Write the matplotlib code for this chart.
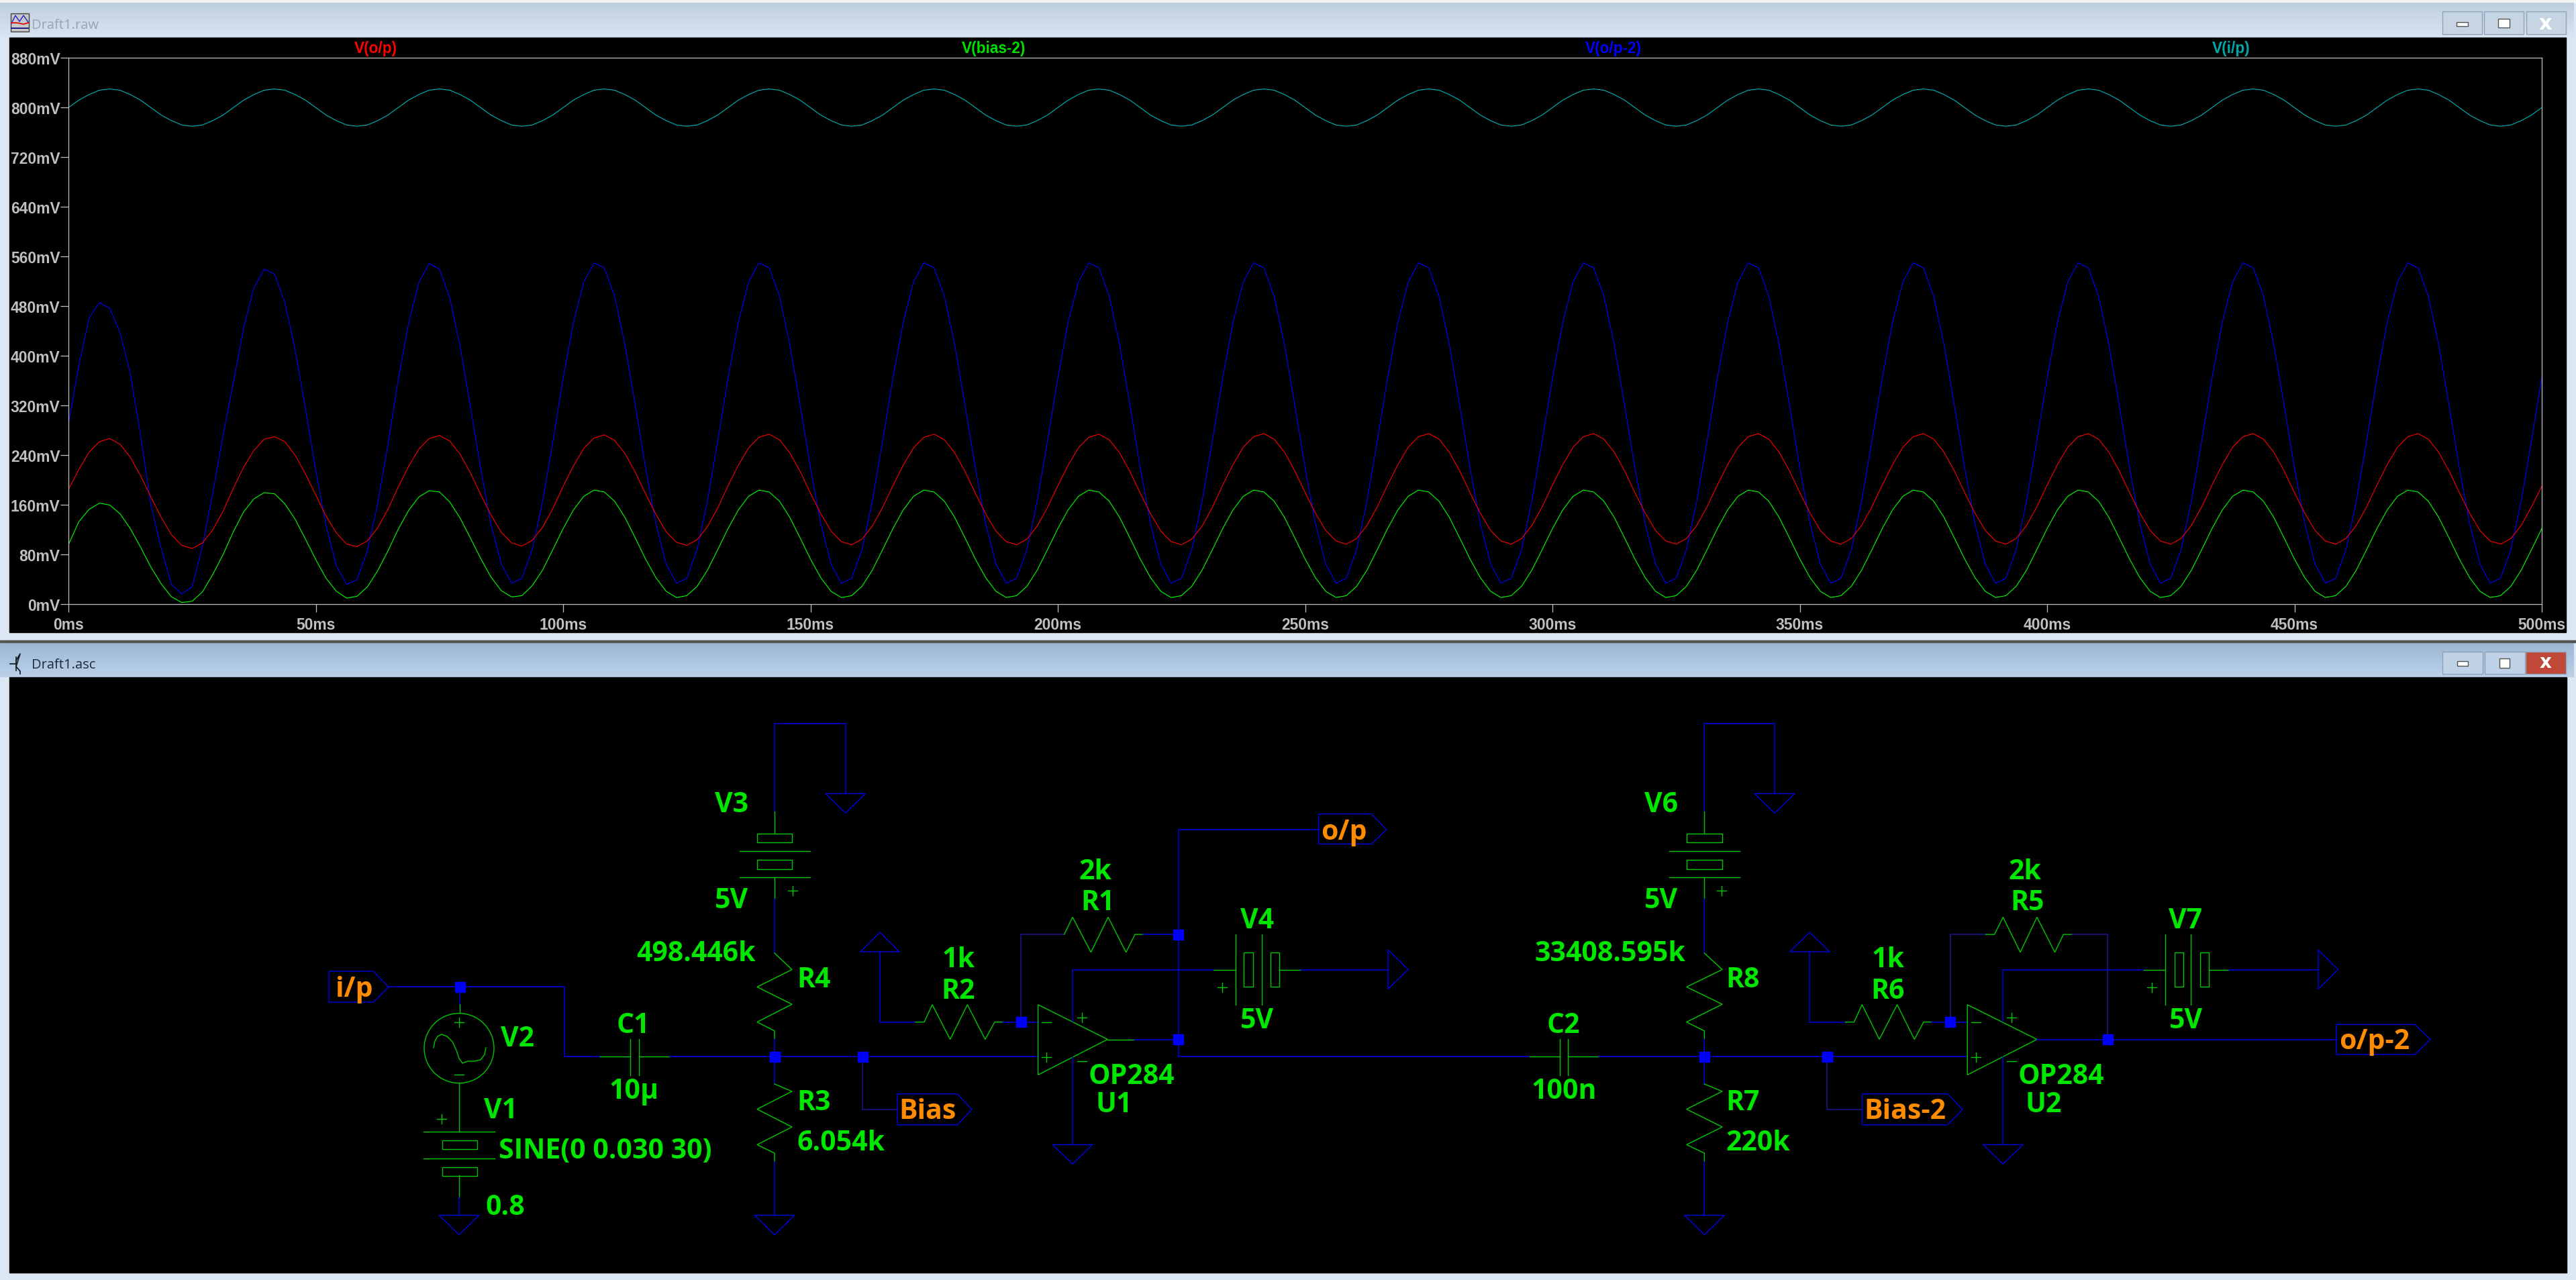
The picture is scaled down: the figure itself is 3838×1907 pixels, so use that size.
import numpy as np
from matplotlib import pyplot as plt
from matplotlib.patches import Rectangle, Polygon, Circle

# tick labels and series names
time_ticks = [0, 50, 100, 150, 200, 250, 300, 350, 400, 450, 500]
time_labels = ["0ms", "50ms", "100ms", "150ms", "200ms", "250ms", "300ms", "350ms", "400ms", "450ms", "500ms"]
volt_ticks = [0, 80, 160, 240, 320, 400, 480, 560, 640, 720, 800, 880]
volt_labels = ["0mV", "80mV", "160mV", "240mV", "320mV", "400mV", "480mV", "560mV", "640mV", "720mV", "800mV", "880mV"]

# 16 readings per 33.3 ms cycle, one row per cycle, values in mV
v_ip = [
    800, 812, 821, 828, 830, 828, 821, 812, 800, 788, 779, 772, 770, 772, 779, 788,
    800, 812, 821, 828, 830, 828, 821, 812, 800, 788, 779, 772, 770, 772, 779, 788,
    800, 812, 821, 828, 830, 828, 821, 812, 800, 788, 779, 772, 770, 772, 779, 788,
    800, 812, 821, 828, 830, 828, 821, 812, 800, 788, 779, 772, 770, 772, 779, 788,
    800, 812, 821, 828, 830, 828, 821, 812, 800, 788, 779, 772, 770, 772, 779, 788,
    800, 812, 821, 828, 830, 828, 821, 812, 800, 788, 779, 772, 770, 772, 779, 788,
    800, 812, 821, 828, 830, 828, 821, 812, 800, 788, 779, 772, 770, 772, 779, 788,
    800, 812, 821, 828, 830, 828, 821, 812, 800, 788, 779, 772, 770, 772, 779, 788,
    800, 812, 821, 828, 830, 828, 821, 812, 800, 788, 779, 772, 770, 772, 779, 788,
    800, 812, 821, 828, 830, 828, 821, 812, 800, 788, 779, 772, 770, 772, 779, 788,
    800, 812, 821, 828, 830, 828, 821, 812, 800, 788, 779, 772, 770, 772, 779, 788,
    800, 812, 821, 828, 830, 828, 821, 812, 800, 788, 779, 772, 770, 772, 779, 788,
    800, 812, 821, 828, 830, 828, 821, 812, 800, 788, 779, 772, 770, 772, 779, 788,
    800, 812, 821, 828, 830, 828, 821, 812, 800, 788, 779, 772, 770, 772, 779, 788,
    800, 812, 821, 828, 830, 828, 821, 812, 800, 788, 779, 772, 770, 772, 779, 788,
    800,
]
v_op2 = [
    291, 384, 461, 486, 477, 438, 372, 272, 160, 90, 32, 17, 28, 94, 179, 272,
    357, 445, 510, 540, 532, 486, 410, 315, 215, 127, 62, 32, 40, 86, 162, 257,
    362, 452, 518, 549, 540, 494, 416, 319, 219, 129, 65, 34, 42, 88, 165, 261,
    364, 454, 519, 550, 542, 496, 418, 321, 220, 130, 65, 34, 42, 88, 166, 263,
    364, 454, 519, 550, 542, 496, 418, 321, 220, 130, 65, 34, 42, 88, 166, 263,
    364, 454, 519, 550, 542, 496, 418, 321, 220, 130, 65, 34, 42, 88, 166, 263,
    364, 454, 519, 550, 542, 496, 418, 321, 220, 130, 65, 34, 42, 88, 166, 263,
    364, 454, 519, 550, 542, 496, 418, 321, 220, 130, 65, 34, 42, 88, 166, 263,
    364, 454, 519, 550, 542, 496, 418, 321, 220, 130, 65, 34, 42, 88, 166, 263,
    364, 454, 519, 550, 542, 496, 418, 321, 220, 130, 65, 34, 42, 88, 166, 263,
    364, 454, 519, 550, 542, 496, 418, 321, 220, 130, 65, 34, 42, 88, 166, 263,
    364, 454, 519, 550, 542, 496, 418, 321, 220, 130, 65, 34, 42, 88, 166, 263,
    364, 454, 519, 550, 542, 496, 418, 321, 220, 130, 65, 34, 42, 88, 166, 263,
    364, 454, 519, 550, 542, 496, 418, 321, 220, 130, 65, 34, 42, 88, 166, 263,
    364, 454, 519, 550, 542, 496, 418, 321, 220, 130, 65, 34, 42, 88, 166, 263,
    366,
]
v_op = [
    185, 217, 245, 262, 267, 258, 237, 207, 173, 140, 112, 95, 90, 99, 120, 150,
    187, 221, 248, 266, 270, 262, 240, 210, 176, 142, 115, 97, 93, 102, 123, 153,
    189, 222, 250, 267, 272, 263, 242, 212, 177, 144, 116, 99, 94, 103, 124, 154,
    190, 223, 251, 268, 273, 264, 243, 213, 178, 145, 117, 100, 95, 104, 125, 155,
    191, 224, 252, 269, 274, 265, 244, 214, 179, 146, 118, 101, 96, 105, 126, 156,
    191, 224, 252, 269, 274, 265, 244, 214, 179, 146, 118, 101, 96, 105, 126, 156,
    191, 224, 252, 269, 274, 265, 244, 214, 179, 146, 118, 101, 96, 105, 126, 156,
    192, 225, 253, 270, 275, 266, 245, 215, 180, 147, 119, 102, 97, 106, 127, 157,
    192, 225, 253, 270, 275, 266, 245, 215, 180, 147, 119, 102, 97, 106, 127, 157,
    192, 225, 253, 270, 275, 266, 245, 215, 180, 147, 119, 102, 97, 106, 127, 157,
    192, 225, 253, 270, 275, 266, 245, 215, 180, 147, 119, 102, 97, 106, 127, 157,
    192, 225, 253, 270, 275, 266, 245, 215, 180, 147, 119, 102, 97, 106, 127, 157,
    192, 225, 253, 270, 275, 266, 245, 215, 180, 147, 119, 102, 97, 106, 127, 157,
    192, 225, 253, 270, 275, 266, 245, 215, 180, 147, 119, 102, 97, 106, 127, 157,
    192, 225, 253, 270, 275, 266, 245, 215, 180, 147, 119, 102, 97, 106, 127, 157,
    190,
]
v_bias2 = [
    96, 133, 153, 163, 160, 146, 122, 92, 60, 33, 12, 3, 5, 20, 48, 80,
    117, 149, 170, 180, 178, 162, 137, 105, 72, 42, 21, 10, 13, 28, 54, 86,
    121, 151, 173, 183, 181, 165, 139, 107, 74, 44, 22, 12, 14, 30, 55, 88,
    122, 152, 174, 184, 181, 166, 140, 107, 73, 43, 21, 11, 14, 29, 55, 88,
    122, 152, 174, 184, 181, 166, 140, 107, 73, 43, 21, 11, 14, 29, 55, 88,
    122, 152, 174, 184, 181, 166, 140, 107, 73, 43, 21, 11, 14, 29, 55, 88,
    122, 152, 174, 184, 181, 166, 140, 107, 73, 43, 21, 11, 14, 29, 55, 88,
    122, 152, 174, 184, 181, 166, 140, 107, 73, 43, 21, 11, 14, 29, 55, 88,
    122, 152, 174, 184, 181, 166, 140, 107, 73, 43, 21, 11, 14, 29, 55, 88,
    122, 152, 174, 184, 181, 166, 140, 107, 73, 43, 21, 11, 14, 29, 55, 88,
    122, 152, 174, 184, 181, 166, 140, 107, 73, 43, 21, 11, 14, 29, 55, 88,
    122, 152, 174, 184, 181, 166, 140, 107, 73, 43, 21, 11, 14, 29, 55, 88,
    122, 152, 174, 184, 181, 166, 140, 107, 73, 43, 21, 11, 14, 29, 55, 88,
    122, 152, 174, 184, 181, 166, 140, 107, 73, 43, 21, 11, 14, 29, 55, 88,
    122, 152, 174, 184, 181, 166, 140, 107, 73, 43, 21, 11, 14, 29, 55, 88,
    122,
]

W, H = 3838, 1908
BLUE = "#0000e6"
GREEN = "#00c800"
TEXT_GREEN = "#00e600"
ORANGE = "#ff8c00"
GREY = "#c0c0c0"

fig = plt.figure(figsize=(W / 100, H / 100), dpi=100, facecolor="#dbe7f3")

# background axes in screen pixels, holds the window frames and the schematic
bg = fig.add_axes([0, 0, 1, 1])
bg.set_xlim(0, W)
bg.set_ylim(H, 0)
bg.axis("off")


def gradient(x0, x1, y0, y1, top, bottom):
    cmap = plt.matplotlib.colors.LinearSegmentedColormap.from_list("bar", [top, bottom])
    bg.imshow(np.linspace(0, 1, 64).reshape(-1, 1), cmap=cmap, extent=(x0, x1, y1, y0), aspect="auto", zorder=1)


def wire(xs, ys, color=BLUE, lw=1.1):
    bg.plot(xs, ys, color=color, lw=lw, solid_joinstyle="miter", zorder=3)


def part(xs, ys):
    wire(xs, ys, color=GREEN, lw=1.0)


def label(x, y, s, color=TEXT_GREEN, size=29.5):
    bg.text(x, y + 1, s, color=color, fontsize=size, fontweight="bold", family="Open Sans", ha="center", va="center", zorder=5)


def node(x, y):
    bg.add_patch(Rectangle((x - 7.5, y - 7.5), 15, 15, color="#0000ff", zorder=4))


def gnd(x, y, half=29.7, drop=29):
    bg.add_patch(Polygon([(x - half, y), (x + half, y), (x, y + drop)], fill=False, ec=BLUE, lw=1.0, zorder=3))


def flag(xs, ys, text, tx, ty):
    poly = [(xs[0], ys[0]), (xs[1], ys[0]), (xs[2], ys[1]), (xs[1], ys[2]), (xs[0], ys[2])]
    bg.add_patch(Polygon(poly, fill=False, ec=BLUE, lw=1.0, zorder=3))
    label(tx, ty, text, color=ORANGE)


def plus(x, y):
    part([x - 7, x + 7], [y, y])
    part([x, x], [y - 7, y + 7])


def minus(x, y):
    part([x - 7, x + 7], [y, y])


def battery_v(x, y0, half_box, half_line):
    # vertical source with two cells, y0 is the first cell top
    for top, bot in [(y0, y0 + 13.3), (y0 + 39.1, y0 + 52.9)]:
        bg.add_patch(Rectangle((x - half_box, top), 2 * half_box, bot - top, fill=False, ec=GREEN, lw=1.0, zorder=3))
    for yy in [y0 + 25.9, y0 + 65.4]:
        part([x - half_line, x + half_line], [yy, yy])


def battery_h(lead0, plate0, box0, mid, box1, lead1, y):
    part([lead0, plate0], [y, y])
    part([plate0, plate0], [1393, 1498])
    part([mid, mid], [1393, 1498])
    for x0 in (box0, box1):
        bg.add_patch(Rectangle((x0, 1419.7), 13.3, 51.7, fill=False, ec=GREEN, lw=1.0, zorder=3))
    part([box1 + 13.3, lead1], [y, y])


def res_v(x, half, ys):
    part([x, x + half, x - half, x + half, x - half, x, x],
         [ys[0], ys[1], ys[2], ys[3], ys[4], ys[5], ys[6]])


# window frames
bg.add_patch(Rectangle((0, 0), W, 5, color="#f2f2f2", zorder=1))
gradient(0, W - 3, 5, 57, "#bfcedd", "#d8e5f2")
bg.add_patch(Rectangle((14, 57), 3809, 886, color="black", zorder=2))
bg.add_patch(Rectangle((0, 955), W, 2.5, color="#555555", zorder=2))
gradient(0, W - 3, 958, 1010, "#9db7d3", "#bad1e8")
bg.add_patch(Rectangle((14, 1010), 3810, 887, color="black", zorder=2))

# window buttons
for x0 in (3639, 3701, 3763.5):
    bg.add_patch(Rectangle((x0, 18), 59, 34, fc="#c6d4e3", ec="#8fa3ba", lw=1, zorder=3))
bg.add_patch(Rectangle((3660, 34), 17, 6, fc="white", ec="#555555", lw=1, zorder=4))
bg.add_patch(Rectangle((3722, 29), 17, 13, fc="white", ec="#555555", lw=1, zorder=4))
bg.text(3792, 35, "x", color="white", fontsize=22, fontweight="bold", ha="center", va="center", zorder=4)
for x0, fc in ((3639, "#bfd2e6"), (3702, "#bfd2e6"), (3763, "#c0483a")):
    bg.add_patch(Rectangle((x0, 972), 60, 33, fc=fc, ec="#8fa3ba", lw=1, zorder=3))
bg.add_patch(Rectangle((3660.5, 986), 16.5, 6.5, fc="white", ec="#555555", lw=1, zorder=4))
bg.add_patch(Rectangle((3724, 982), 15, 13.5, fc="white", ec="#555555", lw=1, zorder=4))
bg.text(3793, 987, "x", color="white", fontsize=20, fontweight="bold", ha="center", va="center", zorder=4)

bg.text(47, 38, "Draft1.raw", color="#98a4b2", fontsize=14.5, family="Open Sans", va="center", zorder=4)
bg.text(47, 991, "Draft1.asc", color="#1e2c3c", fontsize=14.5, family="Open Sans", va="center", zorder=4)

# title bar icons
bg.add_patch(Rectangle((16, 21), 27, 27, fc="#c8c8c8", ec="#404040", lw=1, zorder=4))
bg.plot([17, 23, 29, 35, 42], [36, 24, 33, 24, 34], color="#2020d0", lw=1, zorder=5)
bg.plot([17, 25, 35, 42], [35, 35, 37, 35], color="#e01010", lw=1.3, zorder=5)
bg.plot([17, 42], [43, 43], color="#101080", lw=1.3, zorder=5)
bg.plot([15, 24], [990, 990], color="#101820", lw=1.2, zorder=5)
bg.plot([24, 24], [980, 1000], color="#101820", lw=1.2, zorder=5)
bg.plot([24, 30, 24, 30, 30], [985, 975, 994, 1001, 1005], color="#101820", lw=1.2, zorder=5)

# input side
flag([490, 556.4, 578.8], [1448, 1471.4, 1494], "i/p", 528, 1474)
wire([578.8, 840.8, 840.8, 894], [1471.4, 1471.4, 1575.3, 1575.3])
node(685, 1471.4)
wire([685, 685], [1471.4, 1497])
part([685, 685], [1497, 1510.4])
bg.add_patch(Circle((684, 1562.7), 52, fill=False, ec=GREEN, lw=1.0, zorder=3))
plus(684, 1524.3)
minus(684, 1602.4)
part([646, 648, 652, 658, 666, 674, 680, 684, 689, 697, 707, 716, 722, 724],
     [1562, 1552, 1545, 1542, 1545, 1553, 1566, 1578, 1585, 1582, 1582, 1580, 1572, 1562])
part([684, 684], [1614.4, 1686.8])
part([631, 737], [1686.8, 1686.8])
for top in (1700, 1739.8):
    bg.add_patch(Rectangle((659, top), 52, 13, fill=False, ec=GREEN, lw=1.0, zorder=3))
part([631, 737], [1726.6, 1726.6])
part([684, 684], [1752.4, 1784.5])
wire([684, 684], [1784.5, 1811.6])
gnd(684, 1811.6)
plus(658, 1668)

# C1 and the first divider
part([894, 938.6], [1575.3, 1575.3])
part([938.6, 938.6], [1549, 1603])
part([952, 952], [1549, 1603])
part([952, 997.5], [1575.3, 1575.3])
wire([997.5, 1546.6], [1575.3, 1575.3])
wire([1154, 1154, 1259.6, 1259.6], [1210, 1079.4, 1079.4, 1183.4])
gnd(1259.6, 1183.4)
part([1154, 1154], [1210, 1242.6])
battery_v(1154, 1242.6, 26, 52.5)
part([1154, 1154], [1308, 1339.7])
plus(1180.8, 1328)
wire([1154, 1154], [1339.7, 1421])
res_v(1154, 26, [1421, 1445.5, 1471.4, 1497.2, 1523.7, 1536.9, 1549])
wire([1154, 1154], [1549, 1616])
node(1154, 1575.3)
res_v(1154, 26, [1616, 1627, 1653.5, 1680, 1706.4, 1719, 1731.6])
wire([1154, 1154], [1731.6, 1811.6])
gnd(1154, 1811.6)
node(1285.4, 1575.3)
wire([1285.4, 1285.4, 1336.8], [1575.3, 1654, 1654], color="#1a1a90")
flag([1336.8, 1426.4, 1448], [1630.8, 1654, 1676.8], "Bias", 1381.6, 1656)

# first op amp
gnd(1311, 1419, half=29, drop=-29)
wire([1311, 1311, 1364], [1419, 1523.7, 1523.7])
part([1364, 1377, 1389, 1415.6, 1441.3, 1467.8, 1482, 1494.4],
     [1523.7, 1523.7, 1497.8, 1549.5, 1497.8, 1549.5, 1523.7, 1523.7])
wire([1494.4, 1521], [1523.7, 1523.7])
node(1521, 1523.7)
wire([1521, 1546.6], [1523.7, 1523.7])
wire([1521, 1521, 1585.6], [1523.7, 1393.2, 1393.2], color="#1a1a90")
part([1585.6, 1598, 1625.4, 1651, 1677.6, 1691, 1703.3], [1393.2, 1367.4, 1419.7, 1367.4, 1419.7, 1393.2, 1393.2])
wire([1703.3, 1755.6], [1393.2, 1393.2])
node(1755.6, 1393.2)
wire([1964.5, 1755.6, 1755.6, 2278.8], [1237, 1237, 1575.3, 1575.3])
flag([1964.5, 2043.3, 2065.7], [1213.6, 1237, 1258.4], "o/p", 2002.7, 1240)
bg.add_patch(Polygon([(1546.6, 1497.8), (1650.2, 1549.5), (1546.6, 1602.4)], fill=False, ec=GREEN, lw=1.0, zorder=3))
minus(1559, 1523.7)
plus(1559, 1576)
plus(1612, 1517)
minus(1612, 1582)
wire([1598, 1598, 1808], [1523, 1445.5, 1445.5])
wire([1598, 1598], [1576, 1706.4])
gnd(1598, 1706.4)
part([1650.2, 1690], [1549.5, 1549.5])
wire([1690, 1755.6], [1549.5, 1549.5])
node(1755.6, 1549.5)
battery_h(1808, 1841, 1853.4, 1880, 1893, 1938, 1445.5)
plus(1821, 1472)
wire([1938, 2068], [1445.5, 1445.5])
bg.add_patch(Polygon([(2068, 1416), (2098, 1445.5), (2068, 1474.5)], fill=False, ec=BLUE, lw=1.0, zorder=3))

# C2 and the second divider
part([2278.8, 2323.6], [1575.3, 1575.3])
part([2323.6, 2323.6], [1549, 1603])
part([2336, 2336], [1549, 1603])
part([2336, 2381.6], [1575.3, 1575.3])
wire([2381.6, 2931.2], [1575.3, 1575.3])
wire([2539.4, 2539.4, 2644, 2644], [1210, 1079.4, 1079.4, 1183.4])
gnd(2644, 1183.4, half=30)
part([2539.4, 2539.4], [1210, 1242.6])
battery_v(2539.4, 1242.6, 26.6, 52.4)
part([2539.4, 2539.4], [1308, 1339.7])
plus(2565, 1328)
wire([2539.4, 2539.4], [1339.7, 1421])
res_v(2539.4, 26.6, [1421, 1445.5, 1471.4, 1497.2, 1523.7, 1536.9, 1549])
wire([2539.4, 2539.4], [1549, 1616])
node(2539.4, 1575.3)
res_v(2539.4, 26.6, [1616, 1627, 1653.5, 1680, 1706.4, 1719, 1731.6])
wire([2539.4, 2539.4], [1731.6, 1811.6])
gnd(2539.4, 1811.6)
node(2722, 1575.3)
wire([2722, 2722, 2774.3], [1575.3, 1654, 1654], color="#1a1a90")
flag([2774.3, 2901.8, 2923.9], [1630.8, 1654, 1676.8], "Bias-2", 2838.5, 1656)

# second op amp
gnd(2696.3, 1419, half=29.7, drop=-29)
wire([2696.3, 2696.3, 2749.5], [1419, 1523.7, 1523.7])
part([2749.5, 2762.4, 2774.3, 2800, 2826.6, 2852.3, 2866, 2878],
     [1523.7, 1523.7, 1497.8, 1549.5, 1497.8, 1549.5, 1523.7, 1523.7])
wire([2878, 2931.2], [1523.7, 1523.7])
node(2905.5, 1523.7)
wire([2905.5, 2905.5, 2958.7], [1523.7, 1393.2, 1393.2], color="#1a1a90")
part([2958.7, 2971.6, 2984.4, 3010, 3034.9, 3061.5, 3074.3, 3087.2],
     [1393.2, 1393.2, 1367.4, 1419.7, 1367.4, 1419.7, 1393.2, 1393.2])
wire([3087.2, 3140.4, 3140.4], [1393.2, 1393.2, 1549.5], color="#1a1a90")
node(3140.4, 1549.5)
bg.add_patch(Polygon([(2931.2, 1497.8), (3034.9, 1549.5), (2931.2, 1602.4)], fill=False, ec=GREEN, lw=1.0, zorder=3))
minus(2944, 1523.7)
plus(2944, 1576)
plus(2997, 1517)
minus(2997, 1582)
wire([2984.4, 2984.4, 3193.6], [1523, 1445.5, 1445.5])
wire([2984.4, 2984.4], [1576, 1706.4])
gnd(2984.4, 1706.4)
wire([3034.9, 3480.7], [1549.5, 1549.5])
flag([3480.7, 3598, 3621], [1527.4, 1549.5, 1572], "o/p-2", 3537.6, 1552)
battery_h(3193.6, 3225.7, 3239.5, 3264, 3278, 3321, 1445.5)
plus(3205.5, 1472)
wire([3321, 3454], [1445.5, 1445.5])
bg.add_patch(Polygon([(3454, 1416), (3483.5, 1445.5), (3454, 1474.5)], fill=False, ec=BLUE, lw=1.0, zorder=3))

# schematic labels
label(1090, 1199, "V3")
label(1090, 1342, "5V")
label(1037, 1421, "498.446k")
label(1213, 1460, "R4")
label(943.6, 1528, "C1")
label(771, 1547.6, "V2")
label(945, 1626, "10µ")
label(746, 1655, "V1")
label(902, 1715, "SINE(0 0.030 30)")
label(753, 1799, "0.8")
label(1213, 1643, "R3")
label(1253, 1702.6, "6.054k")
label(1428, 1430, "1k")
label(1428, 1476.4, "R2")
label(1632, 1298.7, "2k")
label(1636, 1345, "R1")
label(1872.5, 1372, "V4")
label(1872.5, 1521, "5V")
label(1686, 1603.7, "OP284")
label(1659.4, 1646, "U1")
label(2329.4, 1528, "C2")
label(2330, 1626, "100n")
label(2399, 1421, "33408.595k")
label(2475, 1199, "V6")
label(2475, 1342, "5V")
label(2597, 1460, "R8")
label(2597, 1643, "R7")
label(2619, 1702.6, "220k")
label(2813, 1430, "1k")
label(2813, 1476.4, "R6")
label(3016.5, 1298.7, "2k")
label(3021, 1345, "R5")
label(3256, 1372, "V7")
label(3257, 1521, "5V")
label(3070.6, 1603.7, "OP284")
label(3045, 1646, "U2")

# waveform axes
ax = fig.add_axes([102 / W, 1 - 901.4 / H, (3787 - 102) / W, (901.4 - 87.3) / H], facecolor="black")
t_ms = np.arange(len(v_ip)) * 500 / (len(v_ip) - 1)
ax.plot(t_ms, v_ip, color="#00b4b4", lw=0.8)
ax.plot(t_ms, v_op2, color="#0000ff", lw=0.8)
ax.plot(t_ms, v_op, color="#ff0000", lw=0.8)
ax.plot(t_ms, v_bias2, color="#00ff00", lw=0.8)
ax.set_xlim(0, 500)
ax.set_ylim(0, 880)
ax.set_xticks(time_ticks)
ax.set_xticklabels(time_labels)
ax.set_yticks(volt_ticks)
ax.set_yticklabels(volt_labels)
for spine in ax.spines.values():
    spine.set_color(GREY)
    spine.set_linewidth(0.9)
ax.tick_params(axis="x", length=8.6, width=0.9, color=GREY, labelcolor=GREY, labelsize=16.5, pad=4.5)
ax.tick_params(axis="y", length=9, width=0.9, color=GREY, labelcolor=GREY, labelsize=16.5, pad=0)
for tick in ax.get_xticklabels() + ax.get_yticklabels():
    tick.set_family("Liberation Sans")
    tick.set_fontweight("bold")

# trace names above the plot
for x, name, col in [(560, "V(o/p)", "#ff0000"), (1481, "V(bias-2)", "#00e000"),
                     (2404, "V(o/p-2)", "#0000ff"), (3323.7, "V(i/p)", "#00a8a8")]:
    bg.text(x, 72.7, name, color=col, fontsize=16.3, fontweight="bold", family="Liberation Sans",
            ha="center", va="center", zorder=5)

fig.savefig("out.png", dpi=100, facecolor=fig.get_facecolor())
